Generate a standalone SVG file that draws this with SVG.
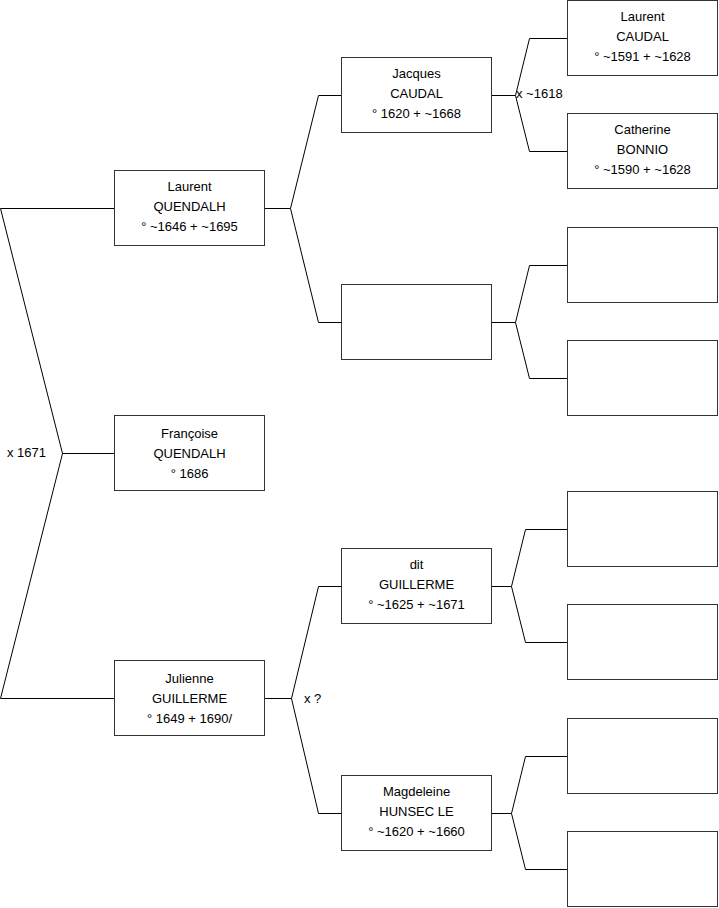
<svg xmlns="http://www.w3.org/2000/svg" width="719" height="908" viewBox="0 0 719 908">
<style>
.b{fill:#fff;stroke:#333;stroke-width:1}
.c{fill:none;stroke:#000;stroke-width:1}
text{font-family:"Liberation Sans",Arial,sans-serif;font-size:13px;fill:#000}
.t{text-anchor:middle}
</style>
<rect width="719" height="908" fill="#fff"/>
<g id="connectors">
<path class="c" d="M0.5,208.5 H114 M0.5,208.5 L62.5,453.5 L0.5,698.5 H114 M62.5,453.5 H114"/>
<path class="c" d="M265,208.5 H290.5 L318.5,95.5 H341 M290.5,208.5 L318.5,322.5 H341"/>
<path class="c" d="M265,698.5 H291.5 L318.5,586.5 H341 M291.5,698.5 L318.5,813.5 H341"/>
<path class="c" d="M492,95.5 H515.5 L529.5,38.5 H567 M515.5,95.5 L529.5,151.5 H567"/>
<path class="c" d="M492,322.5 H515.5 L529.5,265.5 H567 M515.5,322.5 L529.5,378.5 H567"/>
<path class="c" d="M492,586.5 H511.5 L525.5,529.5 H567 M511.5,586.5 L525.5,642.5 H567"/>
<path class="c" d="M492,813.5 H511.5 L525.5,756.5 H567 M511.5,813.5 L525.5,869.5 H567"/>
<text x="7" y="457">x 1671</text>
<text x="516" y="98">x ~1618</text>
<text x="304" y="703">x ?</text>
</g>
<g id="laurent-quendalh"><rect class="b" x="114.5" y="170.5" width="150" height="75"/>
<text class="t" x="189.5" y="191">Laurent</text><text class="t" x="189.5" y="211">QUENDALH</text><text class="t" x="189.5" y="231">° ~1646 + ~1695</text></g>
<g id="francoise-quendalh"><rect class="b" x="114.5" y="415.5" width="150" height="75"/>
<text class="t" x="189.5" y="438">Françoise</text><text class="t" x="189.5" y="458">QUENDALH</text><text class="t" x="189.5" y="478">° 1686</text></g>
<g id="julienne-guillerme"><rect class="b" x="114.5" y="660.5" width="150" height="75"/>
<text class="t" x="189.5" y="683">Julienne</text><text class="t" x="189.5" y="703">GUILLERME</text><text class="t" x="189.5" y="723">° 1649 + 1690/</text></g>
<g id="jacques-caudal"><rect class="b" x="341.5" y="57.5" width="150" height="75"/>
<text class="t" x="416.5" y="78">Jacques</text><text class="t" x="416.5" y="98">CAUDAL</text><text class="t" x="416.5" y="118">° 1620 + ~1668</text></g>
<g id="unknown-2"><rect class="b" x="341.5" y="284.5" width="150" height="75"/></g>
<g id="dit-guillerme"><rect class="b" x="341.5" y="548.5" width="150" height="75"/>
<text class="t" x="416.5" y="569">dit</text><text class="t" x="416.5" y="589">GUILLERME</text><text class="t" x="416.5" y="609">° ~1625 + ~1671</text></g>
<g id="magdeleine-hunsec"><rect class="b" x="341.5" y="775.5" width="150" height="75"/>
<text class="t" x="416.5" y="796">Magdeleine</text><text class="t" x="416.5" y="816">HUNSEC LE</text><text class="t" x="416.5" y="836">° ~1620 + ~1660</text></g>
<g id="laurent-caudal"><rect class="b" x="567.5" y="0.5" width="150" height="75"/>
<text class="t" x="642.5" y="21">Laurent</text><text class="t" x="642.5" y="41">CAUDAL</text><text class="t" x="642.5" y="61">° ~1591 + ~1628</text></g>
<g id="catherine-bonnio"><rect class="b" x="567.5" y="113.5" width="150" height="75"/>
<text class="t" x="642.5" y="134">Catherine</text><text class="t" x="642.5" y="154">BONNIO</text><text class="t" x="642.5" y="174">° ~1590 + ~1628</text></g>
<g id="unknown-5"><rect class="b" x="567.5" y="227.5" width="150" height="75"/></g>
<g id="unknown-6"><rect class="b" x="567.5" y="340.5" width="150" height="75"/></g>
<g id="unknown-7"><rect class="b" x="567.5" y="491.5" width="150" height="75"/></g>
<g id="unknown-8"><rect class="b" x="567.5" y="604.5" width="150" height="75"/></g>
<g id="unknown-9"><rect class="b" x="567.5" y="718.5" width="150" height="75"/></g>
<g id="unknown-10"><rect class="b" x="567.5" y="831.5" width="150" height="75"/></g>
</svg>
